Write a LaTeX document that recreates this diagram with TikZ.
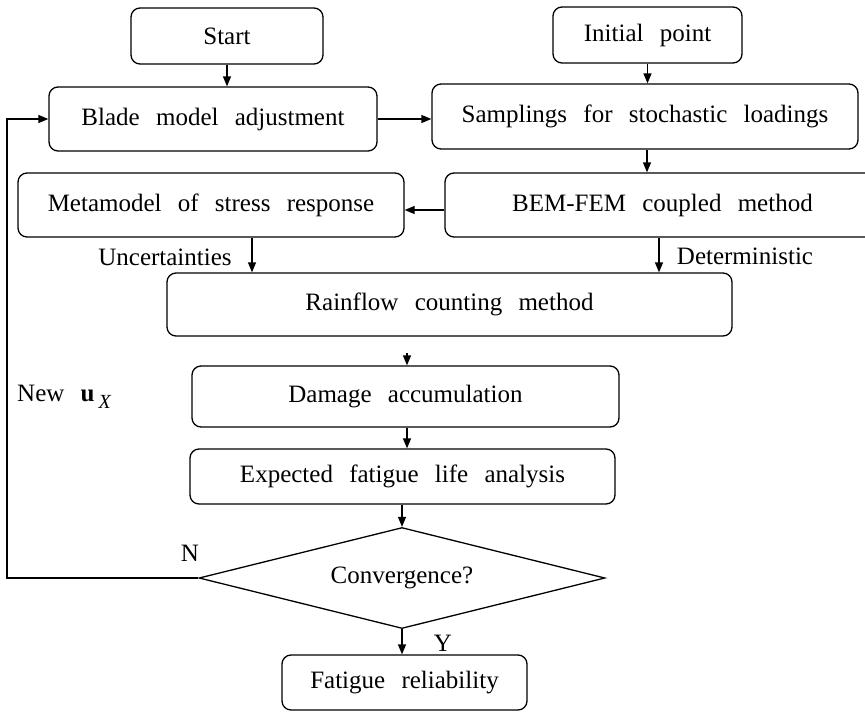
\documentclass[tikz,border=0pt]{standalone}
\usepackage{fontspec}
\setmainfont{Liberation Serif}[WordSpace=2.6]
\usetikzlibrary{arrows.meta,shapes.geometric}
\newcommand\fsz{\fontsize{25}{30}\selectfont}
\tikzset{
  box/.style={draw, line width=1.3pt, rounded corners=9pt, inner sep=0pt, font=\fsz},
  arr/.style={-{Triangle[length=10pt,width=8pt]}, line width=1.3pt},
  lbl/.style={font=\fsz, inner sep=0pt}
}
\begin{document}
\begin{tikzpicture}[x=1pt,y=-1pt]
\useasboundingbox[fill=white] (0,0) rectangle (865,712);
% boxes
\node[box, minimum width=192pt, minimum height=56pt] (start) at (227,36) {Start};
\node[box, minimum width=189pt, minimum height=56pt] (init) at (647.5,35) {Initial point};
\node[box, minimum width=328pt, minimum height=64pt] (blade) at (213,119) {Blade model adjustment};
\node[box, minimum width=426pt, minimum height=65pt] (samp) at (645,116.5) {Samplings for stochastic loadings};
\node[box, minimum width=386pt, minimum height=64pt] (meta) at (211,205) {Metamodel of stress response};
\node[box, minimum width=435pt, minimum height=64pt] (bem) at (662.5,205) {BEM-FEM coupled method\hspace{13pt}};
\node[box, minimum width=565pt, minimum height=63pt] (rain) at (449.5,304.5) {Rainflow counting method};
\node[box, minimum width=427pt, minimum height=61pt] (dmg) at (405.5,396.5) {Damage accumulation};
\node[box, minimum width=425pt, minimum height=55pt] (exp) at (402.5,476.5) {Expected fatigue life analysis};
\node[draw, diamond, shape aspect=4.02, line width=1.3pt, inner sep=0pt, minimum width=406pt, minimum height=101pt, font=\fsz] (conv) at (402,578) {Convergence?};
\node[box, minimum width=245pt, minimum height=55pt] (fat) at (404.5,682.5) {Fatigue reliability};
% labels
\node[lbl] (unc) at (165,257) {Uncertainties};
\node[lbl] (det) at (745,256) {Deterministic};
\node[lbl] (nl) at (190,553) {N};
\node[lbl] (yl) at (443,643) {Y};
\node[lbl, anchor=west] (newu) at (17,397) {New \textbf{u}\,\raisebox{-0.3em}{\fontsize{20}{20}\selectfont\textit{X}}};
% helper coordinates
\coordinate (xa) at (252,0);
\coordinate (xd) at (659,0);
\coordinate (xs) at (647,0);
\coordinate (xb) at (407,0);
\coordinate (ym) at (0,210);
\coordinate (rf) at (407,353);
\coordinate (lp) at (7,0);
% connectors
\draw[arr] (start.south) -- (start.south |- blade.north);
\draw[arr] (init.south) -- (init.south |- samp.north);
\draw[arr] (blade.east) -- (blade.east -| samp.west);
\draw[arr] (samp.south -| xs) -- (bem.north -| xs);
\draw[arr] (bem.west |- ym) -- (meta.east |- ym);
\draw[arr] (meta.south -| xa) -- (rain.north -| xa);
\draw[arr] (bem.south -| xd) -- (rain.north -| xd);
\draw[arr] (rf) -- (rf |- dmg.north);
\draw[arr] (dmg.south -| xb) -- (exp.north -| xb);
\draw[arr] (exp.south -| conv.north) -- (conv.north);
\draw[arr] (conv.south) -- (conv.south |- fat.north);
\draw[arr] (conv.west) -- (conv.west -| lp) -- (blade.west -| lp) -- (blade.west);
\end{tikzpicture}
\end{document}
